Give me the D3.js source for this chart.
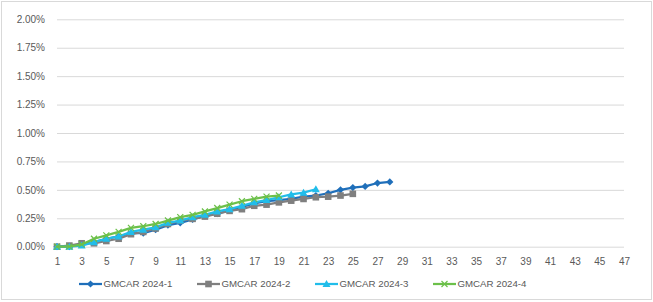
<!DOCTYPE html>
<html>
<head>
<meta charset="utf-8">
<script src="https://cdn.jsdelivr.net/npm/d3@7"></script>
<style>
  body { margin: 0; background: #fff; }
  svg { display: block; font-family: "Liberation Sans", Arial, sans-serif; }
  .axis text { fill: #595959; font-size: 10px; }
  .grid line { stroke: #D9D9D9; stroke-width: 1; }
</style>
</head>
<body>
<div id="chart"></div>
<script>
// ---- Data -------------------------------------------------------------
const periods = d3.range(1, 48);              // 1..47
const xTickLabels = d3.range(1, 48, 2);       // odd labels only
const yTicks = [0, 0.25, 0.5, 0.75, 1, 1.25, 1.5, 1.75, 2];

const seriesNames = ['GMCAR 2024-1', 'GMCAR 2024-2', 'GMCAR 2024-3', 'GMCAR 2024-4'];

// cumulative values in %
const gm2024_1 = [0.00, 0.00, 0.02, 0.04, 0.07, 0.09, 0.12, 0.12, 0.15, 0.19,
                  0.21, 0.24, 0.27, 0.29, 0.32, 0.35, 0.38, 0.40, 0.41, 0.42,
                  0.44, 0.45, 0.47, 0.50, 0.52, 0.53, 0.56, 0.57];
const gm2024_2 = [0.00, 0.01, 0.03, 0.03, 0.05, 0.07, 0.11, 0.13, 0.16, 0.20,
                  0.23, 0.245, 0.265, 0.29, 0.315, 0.33, 0.36, 0.37, 0.39, 0.405,
                  0.42, 0.435, 0.44, 0.45, 0.465];
const gm2024_3 = [0.00, 0.00, 0.01, 0.04, 0.07, 0.09, 0.13, 0.15, 0.17, 0.21,
                  0.23, 0.26, 0.28, 0.31, 0.33, 0.36, 0.39, 0.41, 0.435, 0.46,
                  0.475, 0.505];
const gm2024_4 = [0.00, 0.00, 0.02, 0.07, 0.10, 0.13, 0.165, 0.18, 0.20, 0.23,
                  0.26, 0.28, 0.31, 0.34, 0.37, 0.40, 0.42, 0.44, 0.45];

const seriesValues = [gm2024_1, gm2024_2, gm2024_3, gm2024_4];
const colors = ['#1F6FBA', '#7F7F7F', '#21BDEA', '#6CC04A'];
const markers = ['diamond', 'square', 'triangle', 'cross'];

// ---- Dimensions -------------------------------------------------------
const width = 653, height = 302;
const plot = { left: 57, right: 624, top: 19.3, bottom: 246.7 };

const svg = d3.select('#chart').append('svg')
  .attr('width', width).attr('height', height);

svg.append('rect')
  .attr('x', 1.5).attr('y', 1.5)
  .attr('width', width - 3).attr('height', height - 4)
  .attr('fill', '#fff').attr('stroke', '#D9D9D9');

// ---- Scales -----------------------------------------------------------
const x = d3.scalePoint().domain(periods).range([plot.left, plot.right]);
const y = d3.scaleLinear().domain([0, 2]).range([plot.bottom, plot.top]);

// ---- Grid + y axis ----------------------------------------------------
const yAxis = svg.append('g')
  .attr('class', 'axis grid')
  .attr('transform', `translate(${plot.left},0)`)
  .call(d3.axisLeft(y).tickValues(yTicks)
    .tickSize(-(plot.right - plot.left))
    .tickPadding(12)
    .tickFormat(d => d.toFixed(2) + '%'));
yAxis.select('.domain').remove();

// ---- x axis -----------------------------------------------------------
const xAxis = svg.append('g')
  .attr('class', 'axis')
  .attr('transform', `translate(0,${plot.bottom})`)
  .call(d3.axisBottom(x).tickValues(xTickLabels).tickSize(0).tickPadding(11));
xAxis.select('.domain').remove();

// ---- Lines + markers --------------------------------------------------
const line = d3.line().x((d, i) => x(i + 1)).y(d => y(d));

function drawMarker(g, type, color) {
  if (type === 'diamond') {
    g.append('path').attr('d', 'M0,-3.6L3.6,0L0,3.6L-3.6,0Z').attr('fill', color);
  } else if (type === 'square') {
    g.append('rect').attr('x', -3.3).attr('y', -3.3).attr('width', 6.6).attr('height', 6.6).attr('fill', color);
  } else if (type === 'triangle') {
    g.append('path').attr('d', 'M0,-4L4,3L-4,3Z').attr('fill', color);
  } else {
    g.append('path').attr('d', 'M-3,-3L3,3M-3,3L3,-3').attr('stroke', color).attr('stroke-width', 1.2);
  }
}

seriesValues.forEach((vals, s) => {
  const g = svg.append('g');
  g.append('path')
    .datum(vals)
    .attr('d', line)
    .attr('fill', 'none')
    .attr('stroke', colors[s])
    .attr('stroke-width', 2.25)
    .attr('stroke-linejoin', 'round');
  g.selectAll('g.pt')
    .data(vals)
    .join('g')
    .attr('class', 'pt')
    .attr('transform', (d, i) => `translate(${x(i + 1)},${y(d)})`)
    .each(function () { drawMarker(d3.select(this), markers[s], colors[s]); });
});

// ---- Legend -----------------------------------------------------------
const legendX = [79, 197, 315, 433];
const legendY = 284;
seriesNames.forEach((name, s) => {
  const lg = svg.append('g').attr('transform', `translate(${legendX[s]},${legendY})`);
  lg.append('line').attr('x1', 0).attr('x2', 23)
    .attr('stroke', colors[s]).attr('stroke-width', 2.25);
  drawMarker(lg.append('g').attr('transform', 'translate(11.5,0)'), markers[s], colors[s]);
  lg.append('text')
    .attr('x', 24.5).attr('y', 0).attr('dy', '0.35em')
    .attr('fill', '#595959').style('font-size', '9.7px')
    .text(name);
});
</script>
</body>
</html>
